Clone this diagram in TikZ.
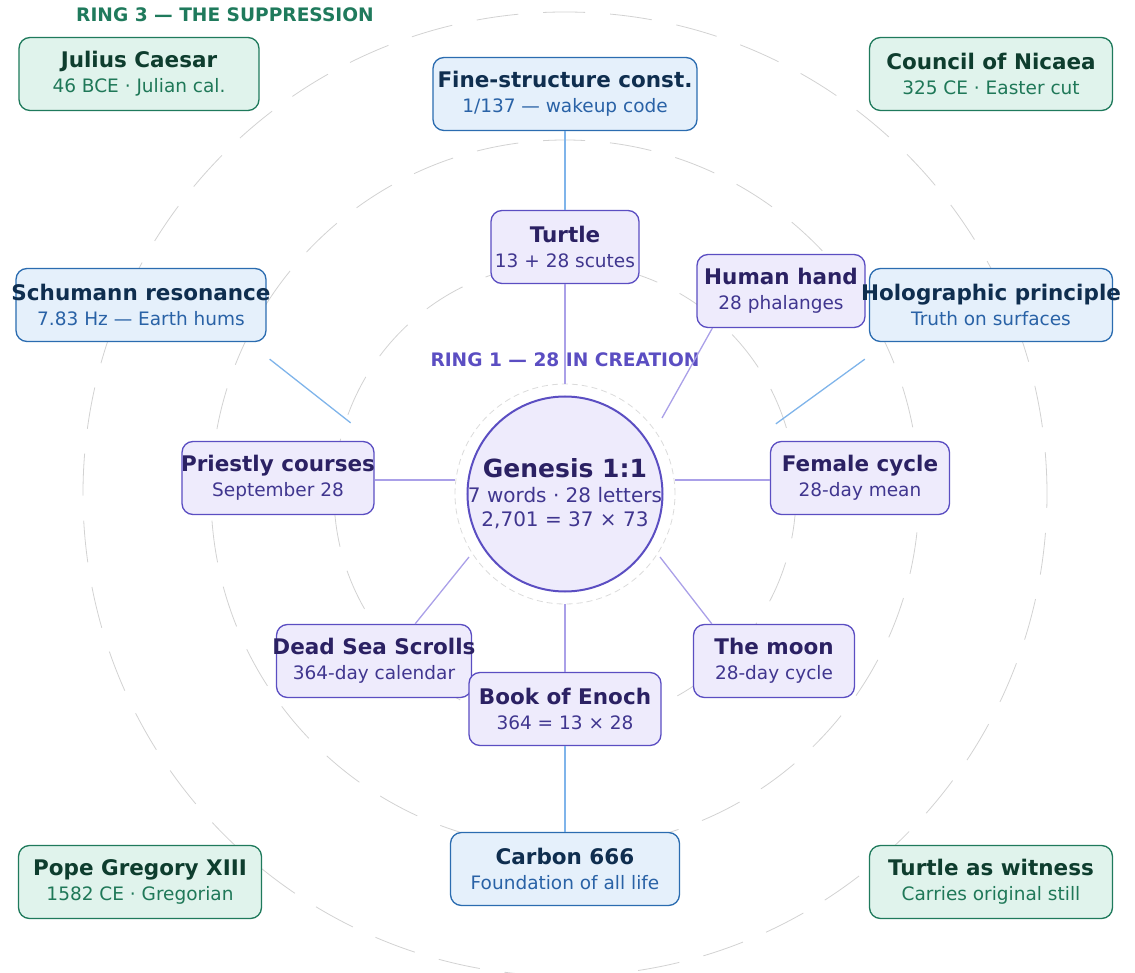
\documentclass[tikz,border=0pt]{standalone}
\usepackage{fontspec}
\setmainfont{DejaVu Sans}
\usepackage{tikz}
\usetikzlibrary{shapes,backgrounds}

\definecolor{creationfill}{HTML}{EEEBFC}
\definecolor{creationdraw}{HTML}{5B4EC2}
\definecolor{creationtitle}{HTML}{2B2163}
\definecolor{creationtext}{HTML}{40368F}
\definecolor{creationline}{HTML}{AAA0E8}
\definecolor{sciencefill}{HTML}{E5F0FB}
\definecolor{sciencedraw}{HTML}{2B6CB0}
\definecolor{sciencetitle}{HTML}{0F2E4F}
\definecolor{sciencetext}{HTML}{2962A6}
\definecolor{scienceline}{HTML}{7FB4EA}
\definecolor{suppressfill}{HTML}{E0F3EC}
\definecolor{suppressdraw}{HTML}{1F7A5C}
\definecolor{suppresstitle}{HTML}{0E3D2E}
\definecolor{suppresstext}{HTML}{1F7858}
\definecolor{ringgray}{HTML}{D2D2D2}

\newcommand{\card}[3]{\makebox[0pt]{\fontsize{21.5}{25}\selectfont\bfseries\color{#1title}#2}\\
	\makebox[0pt]{\color{#1text}#3}}

\begin{document}
\begin{tikzpicture}[x=1pt,y=1pt]

\pgfdeclarelayer{background}
\pgfsetlayers{background,main}

\tikzstyle{card} = [rectangle, rounded corners=11pt, line width=1.3pt, inner sep=0pt, minimum height=73pt, align=center, font=\fontsize{18.5}{25}\selectfont]
\tikzstyle{creation} = [card, draw=creationdraw, fill=creationfill]
\tikzstyle{science} = [card, draw=sciencedraw, fill=sciencefill]
\tikzstyle{suppress} = [card, draw=suppressdraw, fill=suppressfill]
\tikzstyle{ringlabel} = [font=\fontsize{18.6}{20}\selectfont\bfseries]
\tikzstyle{creationlink} = [draw=creationline, line width=1.3pt]
\tikzstyle{sciencelink} = [draw=scienceline, line width=1.3pt]

\useasboundingbox (-565,-478) rectangle (570,494);

%Centre: Genesis

\node (genesis) [circle, draw=creationdraw, fill=creationfill, line width=2pt, minimum size=195pt, inner sep=0pt, align=center, font=\fontsize{20}{24.5}\selectfont, text=creationtext] at (0,0) {\makebox[0pt]{\fontsize{25}{25}\selectfont\bfseries\color{creationtitle}Genesis 1:1}\\
	\makebox[0pt]{7 words · 28 letters}\\
	\makebox[0pt]{2,701 = 37 × 73}};

%Ring 1: 28 in creation

\path (genesis)+(0,134) node (ring_one) [ringlabel, text=creationdraw] {RING 1 — 28 IN CREATION};

\path (genesis)+(0,247) node (turtle) [creation, minimum width=148pt] {\card{creation}{Turtle}{13 + 28 scutes}};
\path (genesis)+(216,203) node (hand) [creation, minimum width=168pt] {\card{creation}{Human hand}{28 phalanges}};
\path (genesis)+(-287,16) node (priestly) [creation, minimum width=192pt] {\card{creation}{Priestly courses}{September 28}};
\path (genesis)+(295,16) node (female) [creation, minimum width=179pt] {\card{creation}{Female cycle}{28-day mean}};
\path (genesis)+(-191,-167) node (deadsea) [creation, minimum width=195pt] {\card{creation}{Dead Sea Scrolls}{364-day calendar}};
\path (genesis)+(209,-167) node (moon) [creation, minimum width=161pt] {\card{creation}{The moon}{28-day cycle}};
\path (genesis)+(0,-215) node (enoch) [creation, minimum width=192pt] {\card{creation}{Book of Enoch}{364 = 13 × 28}};

%Ring 2: the science

\path (genesis)+(0,400) node (finestructure) [science, minimum width=264pt] {\card{science}{Fine-structure const.}{1/137 — wakeup code}};
\path (genesis)+(-424,189) node (schumann) [science, minimum width=250pt] {\card{science}{Schumann resonance}{7.83 Hz — Earth hums}};
\path (genesis)+(426,189) node (holographic) [science, minimum width=243pt] {\card{science}{Holographic principle}{Truth on surfaces}};
\path (genesis)+(0,-375) node (carbon) [science, minimum width=229pt] {\card{science}{Carbon 666}{Foundation of all life}};

%Ring 3: the suppression

\path (genesis)+(-340,479) node (ring_three) [ringlabel, text=suppressdraw] {RING 3 — THE SUPPRESSION};

\path (genesis)+(-426,420) node (caesar) [suppress, minimum width=240pt] {\card{suppress}{Julius Caesar}{46 BCE · Julian cal.}};
\path (genesis)+(426,420) node (nicaea) [suppress, minimum width=243pt] {\card{suppress}{Council of Nicaea}{325 CE · Easter cut}};
\path (genesis)+(-425,-388) node (gregory) [suppress, minimum width=243pt] {\card{suppress}{Pope Gregory XIII}{1582 CE · Gregorian}};
\path (genesis)+(426,-388) node (witness) [suppress, minimum width=243pt] {\card{suppress}{Turtle as witness}{Carries original still}};

%Links

\path (genesis)+(0,110) coordinate (turtle_in);
\path (genesis)+(97,76) coordinate (hand_in);
\path (hand.south west)+(16,0) coordinate (hand_out);
\path (genesis)+(-110,14) coordinate (priestly_in);
\path (genesis)+(110,14) coordinate (female_in);
\path (genesis)+(-96,-63) coordinate (deadsea_in);
\path (deadsea.north east)+(-57,0) coordinate (deadsea_out);
\path (genesis)+(95,-63) coordinate (moon_in);
\path (moon.north west)+(19,0) coordinate (moon_out);
\path (genesis)+(0,-110) coordinate (enoch_in);

\draw [creationlink] (turtle_in) -- (turtle.south);
\draw [creationlink] (hand_in) -- (hand_out);
\draw [creationlink] (priestly_in) -- (priestly_in -| priestly.east);
\draw [creationlink] (female_in) -- (female_in -| female.west);
\draw [creationlink] (deadsea_in) -- (deadsea_out);
\draw [creationlink] (moon_in) -- (moon_out);
\draw [creationlink] (enoch_in) -- (enoch.north);

\path (schumann.south east)+(3,-17) coordinate (schumann_out);
\path (priestly.north east)+(-24,18) coordinate (schumann_in);
\path (holographic.south west)+(-4,-17) coordinate (holographic_out);
\path (female.north west)+(6,17) coordinate (holographic_in);

\draw [sciencelink] (finestructure.south) -- (turtle.north);
\draw [sciencelink] (enoch.south) -- (carbon.north);
\draw [sciencelink] (schumann_out) -- (schumann_in);
\draw [sciencelink] (holographic_out) -- (holographic_in);

\begin{pgfonlayer}{background}

\draw [ringgray!80, line width=0.8pt, dash pattern=on 6pt off 4pt] (genesis) circle (110);
\draw [ringgray, line width=0.8pt, dash pattern=on 42pt off 25pt] (genesis) circle (231);
\draw [ringgray, line width=0.8pt, dash pattern=on 42pt off 25pt] (genesis) circle (354);
\draw [ringgray, line width=0.8pt, dash pattern=on 42pt off 25pt] (genesis) circle (482);

\end{pgfonlayer}

\end{tikzpicture}
\end{document}
